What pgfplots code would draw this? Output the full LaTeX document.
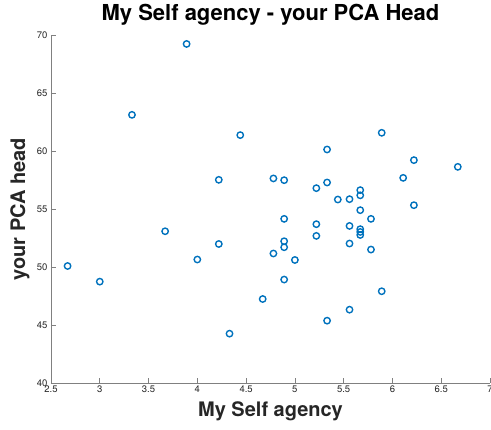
\documentclass[border=0pt]{standalone}
\usepackage{pgfplots}
\pgfplotsset{compat=1.18}
\usepackage{fontspec}
\setmainfont{TeX Gyre Heros}
\definecolor{mblue}{RGB}{0,114,189}
\definecolor{axgray}{RGB}{128,128,128}
\definecolor{tickgray}{RGB}{38,38,38}
\begin{document}
\begin{tikzpicture}
\begin{axis}[
  at={(0,0)}, anchor=south west,
  scale only axis,
  width=439pt, height=347.5pt,
  xmin=2.5, xmax=7, ymin=40, ymax=70,
  xtick={2.5,3,...,7}, ytick={40,45,...,70},
  axis x line=bottom, axis y line=left,
  axis line style={-, draw=axgray, line width=0.6pt},
  tick style={draw=axgray, line width=0.6pt},
  major tick length=5pt,
  tick align=inside,
  /pgf/number format/assume math mode=true,
  tick label style={font=\fontsize{9.5}{10}\selectfont, text=tickgray},
  xticklabel style={yshift=1pt},
  title={\textbf{My Self agency - your PCA Head}},
  title style={font=\fontsize{22}{24}\selectfont, at={(axis description cs:0.5,1)}, anchor=base, yshift=8.5pt},
  xlabel={\textbf{My Self agency}},
  ylabel={\textbf{your PCA head}},
  every axis x label/.style={at={(axis description cs:0.5,0)}, anchor=center, yshift=-28pt, font=\fontsize{20}{22}\selectfont, text=tickgray},
  every axis y label/.style={at={(axis description cs:0,0.5)}, anchor=center, xshift=-31pt, rotate=90, font=\fontsize{20}{22}\selectfont, text=tickgray},
]
\addplot[only marks, mark=o, mark size=3.2pt, mark options={draw=mblue, line width=1.4pt}] coordinates {
(2.67,50.1) (3.0,48.75) (3.33,63.15) (3.67,53.1) (3.89,69.27) (4.0,50.66)
(4.22,57.54) (4.22,52.0) (4.33,44.26) (4.44,61.4) (4.67,47.25)
(4.78,57.66) (4.78,51.18) (4.89,57.51) (4.89,54.17) (4.89,52.24) (4.89,51.72) (4.89,48.93)
(5.0,50.62) (5.22,56.82) (5.22,53.71) (5.22,52.7)
(5.33,60.16) (5.33,57.31) (5.33,45.38) (5.44,55.84)
(5.56,55.87) (5.56,53.56) (5.56,52.04) (5.56,46.33)
(5.67,56.65) (5.67,56.2) (5.67,54.92) (5.67,53.28) (5.67,53.04) (5.67,52.78)
(5.78,54.17) (5.78,51.52) (5.89,61.6) (5.89,47.92)
(6.11,57.71) (6.22,59.24) (6.22,55.35) (6.67,58.66)
};
\end{axis}
\pgfresetboundingbox
\path[use as bounding box] (-51pt,-47pt) rectangle (440pt,383pt);
\end{tikzpicture}
\end{document}
